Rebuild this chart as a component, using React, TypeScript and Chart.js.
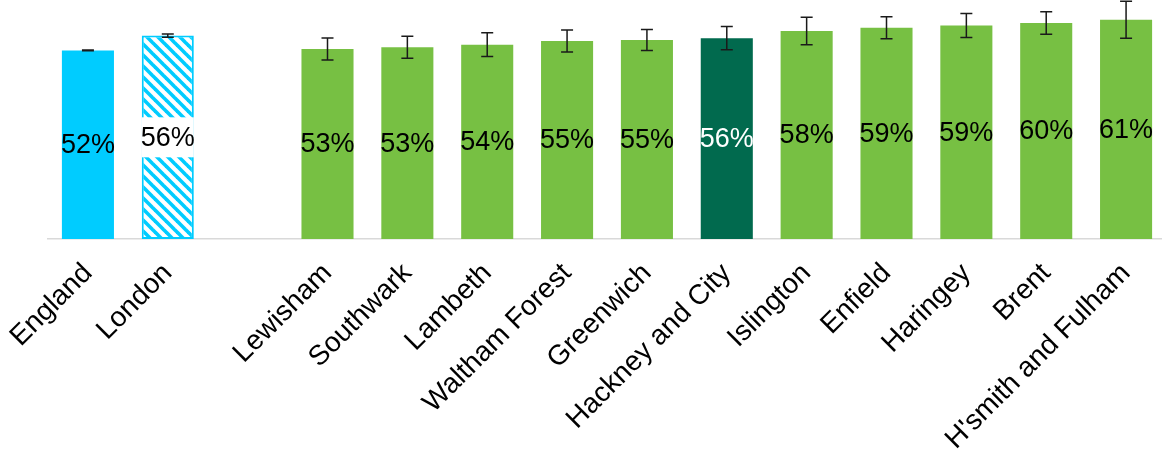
import React, { useEffect, useRef } from "react";
import { Chart, registerables } from "chart.js";

Chart.register(...registerables);

const categories = [
  "England",
  "London",
  "",
  "Lewisham",
  "Southwark",
  "Lambeth",
  "Waltham Forest",
  "Greenwich",
  "Hackney and City",
  "Islington",
  "Enfield",
  "Haringey",
  "Brent",
  "H'smith and Fulham",
];
const values = [52.3, 56.4, null, 52.7, 53.2, 53.9, 54.9, 55.2, 55.7, 57.7, 58.6, 59.2, 59.9, 60.8];
const errors = [0.1, 0.45, null, 3.05, 3.05, 3.3, 3.05, 2.9, 3.2, 3.8, 3.05, 3.3, 3.15, 5.1];
const valueLabels = ["52%", "56%", "", "53%", "53%", "54%", "55%", "55%", "56%", "58%", "59%", "59%", "60%", "61%"];

const CYAN = "#00CCFF";
const GREEN = "#77C043";
const DARK_GREEN = "#016A4E";
const FONT = "'Liberation Sans', Arial, sans-serif";

function makeHatch(): CanvasPattern | string {
  const size = 11;
  const c = document.createElement("canvas");
  c.width = size;
  c.height = size;
  const ctx = c.getContext("2d");
  if (!ctx) return CYAN;
  ctx.fillStyle = "#ffffff";
  ctx.fillRect(0, 0, size, size);
  ctx.strokeStyle = CYAN;
  ctx.lineWidth = 3.6;
  for (let k = -1; k <= 1; k++) {
    ctx.beginPath();
    ctx.moveTo(k * size - 2, -2);
    ctx.lineTo(k * size + size + 2, size + 2);
    ctx.stroke();
  }
  const p = ctx.createPattern(c, "repeat");
  return p || CYAN;
}

const overlayPlugin = {
  id: "overlay",
  afterDatasetsDraw(chart: any) {
    const ctx = chart.ctx;
    const meta = chart.getDatasetMeta(0);
    const yScale = chart.scales.y;
    ctx.save();
    meta.data.forEach((bar: any, i: number) => {
      const v = values[i];
      if (v === null || v === undefined) return;
      const props = bar.getProps(["x", "y", "base", "width"], true);
      const cx = props.x;
      const top = props.y;
      const base = props.base;
      const w = props.width;
      const midY = (top + base) / 2;

      // London white label box
      if (i === 1) {
        ctx.fillStyle = "#ffffff";
        ctx.fillRect(cx - w / 2, midY - 20, w, 40);
      }

      // value label
      ctx.font = `27px ${FONT}`;
      ctx.textAlign = "center";
      ctx.textBaseline = "middle";
      ctx.fillStyle = i === 8 ? "#ffffff" : "#000000";
      ctx.fillText(valueLabels[i], cx, midY + 1);

      // error bar
      const e = errors[i];
      if (e !== null && e !== undefined) {
        const yHi = yScale.getPixelForValue(v + e);
        const yLo = yScale.getPixelForValue(v - e);
        ctx.strokeStyle = "#1a1a1a";
        ctx.lineWidth = 1.5;
        ctx.beginPath();
        ctx.moveTo(cx, yHi);
        ctx.lineTo(cx, yLo);
        ctx.moveTo(cx - 6, yHi);
        ctx.lineTo(cx + 6, yHi);
        ctx.moveTo(cx - 6, yLo);
        ctx.lineTo(cx + 6, yLo);
        ctx.stroke();
      }
    });
    ctx.restore();
  },
};

export default function App() {
  const ref = useRef<HTMLCanvasElement | null>(null);

  useEffect(() => {
    if (!ref.current) return;
    const hatch = makeHatch();
    const bg = categories.map((_, i) => (i === 0 ? CYAN : i === 1 ? hatch : i === 8 ? DARK_GREEN : GREEN));
    const borderColors = categories.map((_, i) => (i === 1 ? CYAN : "rgba(0,0,0,0)"));
    const borderWidths = categories.map((_, i) => (i === 1 ? 2 : 0));

    const chart = new Chart(ref.current, {
      type: "bar",
      data: {
        labels: categories,
        datasets: [
          {
            data: values as any,
            backgroundColor: bg as any,
            borderColor: borderColors,
            borderWidth: borderWidths,
            borderSkipped: false,
            barPercentage: 0.652,
            categoryPercentage: 1,
          },
        ],
      },
      options: {
        animation: false,
        responsive: false,
        maintainAspectRatio: false,
        layout: { padding: { left: 48, right: 4, top: 1, bottom: 0 } },
        plugins: {
          legend: { display: false },
          tooltip: { enabled: false },
        },
        scales: {
          x: {
            grid: { display: false, drawTicks: false },
            border: { display: true, color: "#D9D9D9", width: 1.5 },
            ticks: {
              color: "#000000",
              font: { family: FONT, size: 28 },
              maxRotation: 45,
              minRotation: 45,
              autoSkip: false,
              padding: 18,
            },
            afterFit(scale: any) {
              scale.height = 215;
              scale.paddingLeft = 0;
              scale.paddingRight = 0;
            },
          },
          y: {
            display: false,
            min: 0,
            max: 66,
          },
        },
      },
      plugins: [overlayPlugin],
    });
    return () => chart.destroy();
  }, []);

  return (
    <div style={{ position: "fixed", left: 0, top: 0, width: 1162, height: 454, overflow: "hidden", background: "#fff" }}>
      <canvas ref={ref} width={1170} height={454} style={{ width: 1170, height: 454, display: "block" }} />
    </div>
  );
}
